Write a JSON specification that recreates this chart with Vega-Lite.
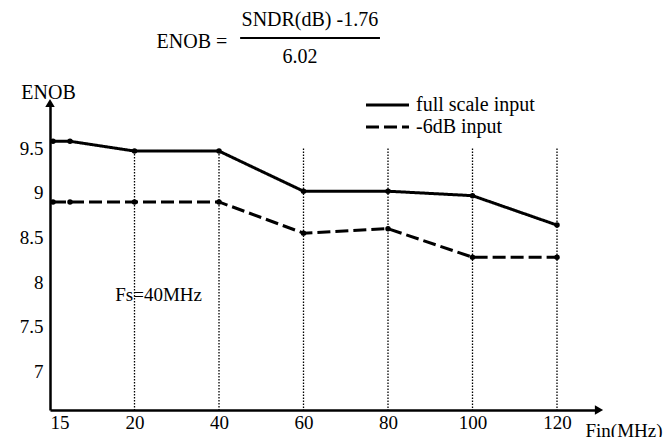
{
  "$schema": "https://vega.github.io/schema/vega-lite/v6.json",
  "width": 549,
  "height": 307,
  "autosize": "none",
  "padding": {"left": 50, "top": 103, "right": 66, "bottom": 27},
  "background": "white",
  "config": {
    "view": {"stroke": null},
    "font": "Liberation Serif",
    "axis": {"labelFont": "Liberation Serif", "titleFont": "Liberation Serif", "labelColor": "black", "titleColor": "black", "domainColor": "black", "grid": false, "ticks": false, "titleFontWeight": "normal"},
    "legend": {"labelFont": "Liberation Serif"}
  },
  "datasets": {
    "enob": [
      {"fin": 10, "enob": 9.58, "series": "full scale input"},
      {"fin": 15, "enob": 9.58, "series": "full scale input"},
      {"fin": 20, "enob": 9.47, "series": "full scale input"},
      {"fin": 40, "enob": 9.47, "series": "full scale input"},
      {"fin": 60, "enob": 9.02, "series": "full scale input"},
      {"fin": 80, "enob": 9.02, "series": "full scale input"},
      {"fin": 100, "enob": 8.97, "series": "full scale input"},
      {"fin": 120, "enob": 8.64, "series": "full scale input"},
      {"fin": 10, "enob": 8.9, "series": "-6dB input"},
      {"fin": 15, "enob": 8.9, "series": "-6dB input"},
      {"fin": 20, "enob": 8.9, "series": "-6dB input"},
      {"fin": 40, "enob": 8.9, "series": "-6dB input"},
      {"fin": 60, "enob": 8.55, "series": "-6dB input"},
      {"fin": 80, "enob": 8.6, "series": "-6dB input"},
      {"fin": 100, "enob": 8.28, "series": "-6dB input"},
      {"fin": 120, "enob": 8.28, "series": "-6dB input"}
    ],
    "rules": [
      {"fin": 20, "top": 9.47},
      {"fin": 40, "top": 9.47},
      {"fin": 60, "top": 9.5},
      {"fin": 80, "top": 9.5},
      {"fin": 100, "top": 9.5},
      {"fin": 120, "top": 9.5}
    ],
    "arrows": [
      {"fin": 130, "enob": 6.567, "shape": "triangle-right"},
      {"fin": 9, "enob": 10.009, "shape": "triangle-up"}
    ],
    "notes": [
      {"text": "ENOB =", "kind": "formula", "fin": 33.6, "enob": 10.693},
      {"text": "SNDR(dB) -1.76", "kind": "formula", "fin": 61.5, "enob": 10.939},
      {"text": "6.02", "kind": "formula", "fin": 59.2, "enob": 10.525},
      {"text": "Fs=40MHz", "kind": "plot", "fin": 25.7, "enob": 7.86},
      {"text": "15", "kind": "plot", "fin": 12.06, "enob": 6.42}
    ],
    "bar": [
      {"fin": 45.0, "fin2": 78.1, "enob": 10.738}
    ]
  },
  "layer": [
    {
      "data": {"name": "rules"},
      "mark": {"type": "rule", "strokeDash": [1.5, 1.5], "strokeWidth": 1.3, "color": "black"},
      "encoding": {
        "x": {"field": "fin", "type": "quantitative"},
        "y": {"field": "top", "type": "quantitative"},
        "y2": {"datum": 6.567}
      }
    },
    {
      "data": {"name": "enob"},
      "mark": {"type": "line", "strokeWidth": 3, "color": "black"},
      "encoding": {
        "x": {
          "field": "fin", "type": "quantitative",
          "scale": {"domain": [9, 10, 15, 20, 40, 60, 80, 100, 120, 130], "range": [0, 3, 20, 84.5, 169, 253.5, 338, 422.5, 507, 549], "zero": false, "nice": false},
          "axis": {
            "values": [20, 40, 60, 80, 100, 120],
            "domainWidth": 2.5,
            "labelFont": "Liberation Serif",
            "labelFontSize": 19,
            "labelPadding": 3,
            "title": "Fin(MHz)",
            "titleFont": "Liberation Serif",
            "titleFontSize": 19,
            "titleX": 535,
            "titleY": 20,
            "titleAlign": "left",
            "titleBaseline": "middle"
          }
        },
        "y": {
          "field": "enob", "type": "quantitative",
          "scale": {"domain": [6.567, 10.009], "zero": false, "nice": false},
          "axis": {
            "values": [7, 7.5, 8, 8.5, 9, 9.5],
            "format": "~g",
            "domainWidth": 2.5,
            "labelFont": "Liberation Serif",
            "labelFontSize": 19,
            "labelPadding": 7,
            "title": "ENOB",
            "titleFont": "Liberation Serif",
            "titleFontSize": 20,
            "titleAngle": 0,
            "titleX": -2,
            "titleY": -11,
            "titleAlign": "center",
            "titleBaseline": "middle"
          }
        },
        "strokeDash": {
          "field": "series", "type": "nominal",
          "scale": {"domain": ["full scale input", "-6dB input"], "range": [[1, 0], [13, 5]]},
          "legend": {
            "title": null,
            "orient": "none",
            "legendX": 327.5,
            "legendY": -8,
            "padding": 0,
            "symbolType": "M-4.3,0H4.3",
            "symbolStrokeColor": "black",
            "symbolOpacity": 1,
            "symbolStrokeWidth": 3,
            "symbolSize": 100,
            "symbolDashOffset": 0,
            "labelFont": "Liberation Serif",
            "labelFontSize": 20,
            "labelColor": "black",
            "labelOffset": 18.5,
            "rowPadding": 2
          }
        }
      }
    },
    {
      "data": {"name": "enob"},
      "mark": {"type": "point", "filled": true, "size": 30, "color": "black", "opacity": 1},
      "encoding": {
        "x": {"field": "fin", "type": "quantitative"},
        "y": {"field": "enob", "type": "quantitative"}
      }
    },
    {
      "data": {"name": "arrows"},
      "mark": {"type": "point", "filled": true, "color": "black", "size": 90, "opacity": 1},
      "encoding": {
        "x": {"field": "fin", "type": "quantitative"},
        "y": {"field": "enob", "type": "quantitative"},
        "shape": {"field": "shape", "type": "nominal", "scale": null, "legend": null}
      }
    },
    {
      "data": {"name": "notes"},
      "transform": [{"filter": "datum.kind == 'plot'"}],
      "mark": {"type": "text", "fontSize": 19, "color": "black", "align": "center", "baseline": "middle", "font": "Liberation Serif"},
      "encoding": {
        "x": {"field": "fin", "type": "quantitative"},
        "y": {"field": "enob", "type": "quantitative"},
        "text": {"field": "text"}
      }
    },
    {
      "data": {"name": "notes"},
      "transform": [{"filter": "datum.kind == 'formula'"}],
      "mark": {"type": "text", "fontSize": 20, "color": "black", "align": "center", "baseline": "middle", "font": "Liberation Serif"},
      "encoding": {
        "x": {"field": "fin", "type": "quantitative"},
        "y": {"field": "enob", "type": "quantitative"},
        "text": {"field": "text"}
      }
    },
    {
      "data": {"name": "bar"},
      "mark": {"type": "rule", "strokeWidth": 1.8, "color": "black"},
      "encoding": {
        "x": {"field": "fin", "type": "quantitative"},
        "x2": {"field": "fin2"},
        "y": {"field": "enob", "type": "quantitative"}
      }
    }
  ]
}
